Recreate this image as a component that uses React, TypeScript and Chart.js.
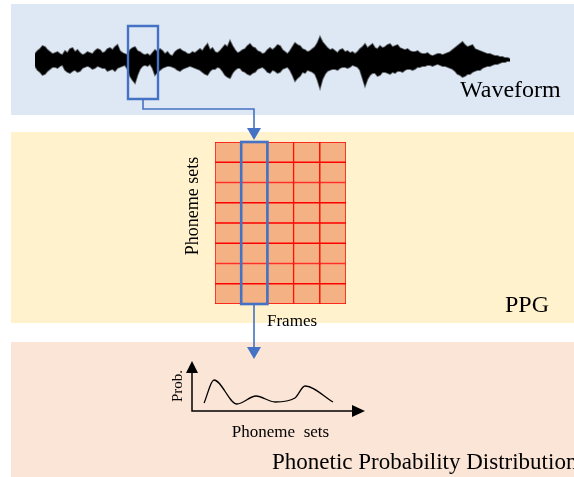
import React, { useEffect, useRef } from "react";
import { Chart, registerables } from "chart.js";

Chart.register(...registerables);

const FONT = "'Liberation Serif', 'Times New Roman', Times, serif";

// ---------- DATA ----------
// Waveform envelope: amplitude (px) above / below the centre line, one sample every 2.5 px
const waveUpper = [
  6, 9, 11, 14, 13, 10, 8, 6, 7, 8, 6, 5, 9, 7, 11, 12, 8, 10, 7, 5, 6, 8, 7, 6, 9, 11, 10, 7, 8, 11, 12, 10, 13, 15, 9, 7, 6, 5, 10, 12,
  13, 9, 8, 6, 5, 6, 4, 7, 10, 8, 11, 9, 6, 8, 5, 4, 8, 10, 11, 9, 8, 6, 6, 8, 7, 9, 11, 9, 13, 16, 10, 12, 8, 7, 9, 12, 15, 13, 19, 14,
  10, 7, 8, 10, 11, 14, 16, 13, 12, 9, 8, 6, 7, 10, 12, 10, 12, 15, 14, 10, 8, 6, 9, 13, 17, 15, 14, 11, 10, 8, 9, 11, 13, 17, 23, 18, 15, 12, 10, 11,
  9, 7, 10, 11, 8, 9, 7, 8, 6, 8, 11, 13, 16, 12, 14, 16, 12, 11, 14, 12, 13, 15, 16, 13, 14, 15, 12, 11, 10, 11, 9, 8, 8, 9, 7, 6, 6, 7, 5, 4,
  5, 6, 6, 5, 6, 7, 8, 10, 12, 14, 16, 18, 15, 13, 14, 15, 11, 10, 9, 8, 7, 6, 6, 5, 4, 4, 3, 3, 2, 2, 1,
];
const waveLower = [
  6, 10, 12, 15, 14, 11, 9, 7, 7, 8, 6, 5, 10, 12, 13, 11, 10, 12, 11, 8, 7, 6, 7, 9, 8, 6, 7, 8, 8, 11, 10, 9, 11, 8, 7, 6, 5, 9, 16, 20,
  23, 15, 9, 6, 5, 6, 4, 8, 15, 12, 10, 8, 7, 6, 6, 7, 8, 10, 11, 9, 8, 7, 6, 7, 8, 9, 10, 12, 14, 15, 11, 9, 9, 7, 8, 11, 15, 17, 18, 13,
  10, 8, 8, 11, 12, 14, 15, 13, 12, 9, 8, 7, 9, 12, 13, 10, 11, 13, 12, 9, 8, 7, 10, 15, 21, 18, 16, 12, 13, 10, 11, 12, 14, 20, 28, 19, 14, 11, 10, 9,
  9, 10, 8, 7, 7, 8, 7, 5, 6, 7, 10, 18, 26, 19, 15, 13, 13, 16, 15, 12, 12, 13, 14, 12, 13, 11, 11, 12, 10, 9, 9, 10, 9, 7, 7, 6, 6, 5, 5, 6,
  5, 4, 5, 6, 6, 7, 8, 9, 11, 14, 15, 17, 16, 14, 14, 12, 11, 10, 10, 8, 7, 6, 6, 5, 4, 4, 3, 2, 2, 1, 1,
];

// PPG matrix: frames (columns) x phoneme sets (rows), one unit per cell
const frames = ["f1", "f2", "f3", "f4", "f5"];
const phonemeSets = ["p1", "p2", "p3", "p4", "p5", "p6", "p7", "p8"];
const ppgCells = [
  [1, 1, 1, 1, 1],
  [1, 1, 1, 1, 1],
  [1, 1, 1, 1, 1],
  [1, 1, 1, 1, 1],
  [1, 1, 1, 1, 1],
  [1, 1, 1, 1, 1],
  [1, 1, 1, 1, 1],
  [1, 1, 1, 1, 1],
];
const highlightedFrame = 1;

// Phonetic probability distribution curve
const probX = [0.7, 1.27, 2.6, 3.7, 4.8, 5.95, 6.53, 8.15];
const probY = [0.16, 0.62, 0.14, 0.3, 0.18, 0.26, 0.5, 0.18];

// Texts
const txtWaveform = "Waveform";
const txtPPG = "PPG";
const txtPhonemeSets = "Phoneme sets";
const txtFrames = "Frames";
const txtProb = "Prob.";
const txtPhonemeSets2 = "Phoneme  sets";
const txtDistribution = "Phonetic Probability Distribution";

// ---------- LAYOUT ----------
const W = 574;
const H = 477;
const BLUE = "#4472c4";
const panels = [
  { x0: 11, y0: 4, x1: 574, y1: 115, color: "#dee8f4" },
  { x0: 11, y0: 132, x1: 574, y1: 323, color: "#fff2cc" },
  { x0: 11, y0: 342, x1: 574, y1: 477, color: "#fbe5d6" },
];
const selBox = [
  { x: 128, y: 26 },
  { x: 158, y: 26 },
  { x: 158, y: 99 },
  { x: 128, y: 99 },
  { x: 128, y: 26 },
];
const connector1 = [
  { x: 143, y: 99 },
  { x: 143, y: 109 },
  { x: 254, y: 109 },
  { x: 254, y: 129 },
];
const connector2 = [
  { x: 254, y: 304 },
  { x: 254, y: 348 },
];

const pixelScales = {
  x: { type: "linear" as const, min: 0, max: W, display: false },
  y: { type: "linear" as const, min: 0, max: H, reverse: true, display: false },
};

const noPlugins = { legend: { display: false }, tooltip: { enabled: false } };

export default function App() {
  const bgRef = useRef<HTMLCanvasElement>(null);
  const waveRef = useRef<HTMLCanvasElement>(null);
  const gridRef = useRef<HTMLCanvasElement>(null);
  const probRef = useRef<HTMLCanvasElement>(null);
  const ovRef = useRef<HTMLCanvasElement>(null);

  useEffect(() => {
    const charts: Chart[] = [];

    // Background: panels and labels
    charts.push(
      new Chart(bgRef.current!, {
        type: "scatter",
        data: { datasets: [] },
        options: {
          animation: false,
          responsive: false,
          devicePixelRatio: 1,
          layout: { padding: 0 },
          scales: pixelScales as any,
          plugins: noPlugins,
        },
        plugins: [
          {
            id: "bg",
            beforeDraw(chart) {
              const ctx = chart.ctx;
              const sx = chart.scales.x;
              const sy = chart.scales.y;
              ctx.save();
              panels.forEach((p) => {
                const x0 = sx.getPixelForValue(p.x0);
                const x1 = sx.getPixelForValue(p.x1);
                const y0 = sy.getPixelForValue(p.y0);
                const y1 = sy.getPixelForValue(p.y1);
                ctx.fillStyle = p.color;
                ctx.fillRect(x0, y0, x1 - x0, y1 - y0);
              });
              ctx.fillStyle = "#000";
              ctx.textBaseline = "alphabetic";
              ctx.textAlign = "left";
              ctx.font = `24px ${FONT}`;
              ctx.fillText(txtWaveform, sx.getPixelForValue(460), sy.getPixelForValue(97));
              ctx.fillText(txtPPG, sx.getPixelForValue(505), sy.getPixelForValue(312));
              ctx.font = `23px ${FONT}`;
              ctx.fillText(txtDistribution, sx.getPixelForValue(272), sy.getPixelForValue(469));
              ctx.font = `17px ${FONT}`;
              ctx.fillText(txtFrames, sx.getPixelForValue(267), sy.getPixelForValue(326));
              ctx.save();
              ctx.translate(sx.getPixelForValue(193), sy.getPixelForValue(206));
              ctx.rotate(-Math.PI / 2);
              ctx.textAlign = "center";
              ctx.textBaseline = "middle";
              ctx.font = `18px ${FONT}`;
              ctx.fillText(txtPhonemeSets, 0, 0);
              ctx.restore();
              ctx.restore();
            },
          },
        ],
      })
    );

    // Waveform
    charts.push(
      new Chart(waveRef.current!, {
        type: "line",
        data: {
          labels: waveUpper.map((_, i) => i),
          datasets: [
            {
              data: waveUpper,
              borderColor: "rgba(0,0,0,0.55)",
              backgroundColor: "#000",
              borderWidth: 1.8,
              pointRadius: 0,
              tension: 0,
              fill: "+1",
            },
            {
              data: waveLower.map((v) => -v),
              borderColor: "rgba(0,0,0,0.55)",
              borderWidth: 1.8,
              pointRadius: 0,
              tension: 0,
              fill: false,
            },
          ],
        },
        options: {
          animation: false,
          responsive: false,
          devicePixelRatio: 1,
          layout: { padding: 0 },
          scales: {
            x: { display: false },
            y: { min: -40, max: 40, display: false },
          },
          plugins: noPlugins,
        },
      })
    );

    // PPG grid
    charts.push(
      new Chart(gridRef.current!, {
        type: "bar",
        data: {
          labels: frames,
          datasets: phonemeSets.map((name, r) => ({
            label: name,
            data: ppgCells[r],
            backgroundColor: "#f4b183",
            borderColor: "#ff0000",
            borderWidth: 1,
            borderSkipped: false,
            barPercentage: 1,
            categoryPercentage: 1,
          })),
        },
        options: {
          animation: false,
          responsive: false,
          devicePixelRatio: 1,
          layout: { padding: 3 },
          scales: {
            x: { stacked: true, display: false },
            y: { stacked: true, min: 0, max: phonemeSets.length, display: false },
          },
          plugins: noPlugins,
        },
        plugins: [
          {
            id: "highlight",
            afterDatasetsDraw(chart) {
              const ctx = chart.ctx;
              const a = chart.chartArea;
              const xs = chart.scales.x;
              const cw = a.width / frames.length;
              const cx = xs.getPixelForValue(highlightedFrame);
              ctx.save();
              ctx.strokeStyle = BLUE;
              ctx.lineWidth = 2.6;
              ctx.strokeRect(cx - cw / 2, a.top, cw, a.bottom - a.top);
              ctx.restore();
            },
          },
        ],
      })
    );

    // Probability distribution
    charts.push(
      new Chart(probRef.current!, {
        type: "line",
        data: {
          datasets: [
            {
              data: probX.map((x, i) => ({ x, y: probY[i] })),
              borderColor: "#000",
              borderWidth: 1.3,
              pointRadius: 0,
              cubicInterpolationMode: "monotone",
              fill: false,
            },
          ],
        },
        options: {
          animation: false,
          responsive: false,
          devicePixelRatio: 1,
          layout: { padding: { left: 42, top: 11, right: 35, bottom: 39 } },
          scales: {
            x: { type: "linear", min: 0, max: 10, display: false },
            y: { min: 0, max: 1, display: false },
          },
          plugins: noPlugins,
        },
        plugins: [
          {
            id: "axes",
            afterDraw(chart) {
              const ctx = chart.ctx;
              const a = chart.chartArea;
              ctx.save();
              ctx.strokeStyle = "#000";
              ctx.fillStyle = "#000";
              ctx.lineWidth = 1.5;
              ctx.beginPath();
              ctx.moveTo(a.left, a.top + 11);
              ctx.lineTo(a.left, a.bottom);
              ctx.lineTo(a.right - 12, a.bottom);
              ctx.stroke();
              ctx.beginPath();
              ctx.moveTo(a.left, a.top);
              ctx.lineTo(a.left - 6, a.top + 12);
              ctx.lineTo(a.left + 6, a.top + 12);
              ctx.closePath();
              ctx.fill();
              ctx.beginPath();
              ctx.moveTo(a.right, a.bottom);
              ctx.lineTo(a.right - 13, a.bottom - 6);
              ctx.lineTo(a.right - 13, a.bottom + 6);
              ctx.closePath();
              ctx.fill();
              ctx.font = `17px ${FONT}`;
              ctx.textAlign = "center";
              ctx.textBaseline = "alphabetic";
              ctx.fillText(txtPhonemeSets2, (a.left + a.right) / 2 + 2, a.bottom + 26);
              ctx.save();
              ctx.translate(a.left - 14, a.top + 25);
              ctx.rotate(-Math.PI / 2);
              ctx.font = `15px ${FONT}`;
              ctx.textBaseline = "middle";
              ctx.fillText(txtProb, 0, 0);
              ctx.restore();
              ctx.restore();
            },
          },
        ],
      })
    );

    // Overlay: selection box, connectors, arrowheads
    charts.push(
      new Chart(ovRef.current!, {
        type: "line",
        data: {
          datasets: [
            { data: selBox, borderWidth: 2.4, borderCapStyle: "square" },
            { data: connector1, borderWidth: 1.6 },
            { data: connector2, borderWidth: 1.6 },
          ].map((d) => ({
            ...d,
            borderColor: BLUE,
            pointRadius: 0,
            tension: 0,
            fill: false,
            borderJoinStyle: "miter" as const,
          })),
        },
        options: {
          animation: false,
          responsive: false,
          devicePixelRatio: 1,
          layout: { padding: 0 },
          scales: pixelScales as any,
          plugins: noPlugins,
        },
        plugins: [
          {
            id: "arrows",
            afterDatasetsDraw(chart) {
              const ctx = chart.ctx;
              const sx = chart.scales.x;
              const sy = chart.scales.y;
              ctx.save();
              ctx.fillStyle = BLUE;
              [connector1, connector2].forEach((c) => {
                const end = c[c.length - 1];
                const px = sx.getPixelForValue(end.x);
                const py = sy.getPixelForValue(end.y);
                ctx.beginPath();
                ctx.moveTo(px - 7, py - 1);
                ctx.lineTo(px + 7, py - 1);
                ctx.lineTo(px, py + 11);
                ctx.closePath();
                ctx.fill();
              });
              ctx.restore();
            },
          },
        ],
      })
    );

    return () => charts.forEach((c) => c.destroy());
  }, []);

  const abs = (l: number, t: number, w: number, h: number): React.CSSProperties => ({
    position: "absolute",
    left: l,
    top: t,
    width: w,
    height: h,
  });

  return (
    <div style={{ position: "absolute", left: 0, top: 0, width: W, height: H, background: "#fff", overflow: "hidden" }}>
      <canvas ref={bgRef} width={W} height={H} style={abs(0, 0, W, H)} />
      <canvas ref={waveRef} width={475} height={80} style={abs(35, 20, 475, 80)} />
      <canvas ref={gridRef} width={137} height={168} style={abs(212, 139, 137, 168)} />
      <canvas ref={probRef} width={250} height={100} style={abs(150, 350, 250, 100)} />
      <canvas ref={ovRef} width={W} height={H} style={abs(0, 0, W, H)} />
    </div>
  );
}
